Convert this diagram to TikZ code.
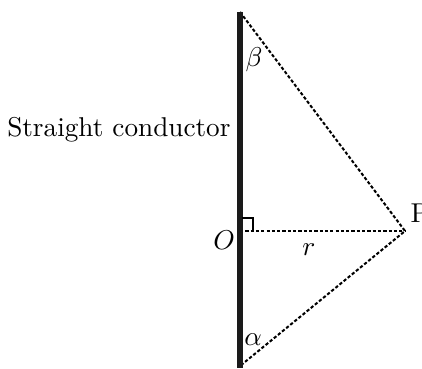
\documentclass[tikz,border=0pt]{standalone}
\usepackage{xcolor}
\usepackage{tikz}
\usepackage{amsmath}
\definecolor{wireblack}{HTML}{1a1a1a}

\begin{document}
\begin{tikzpicture}[x=0.3675pt,y=-0.3675pt,
    guide/.style={line width=0.75pt,dash pattern=on 1.2pt off 0.75pt},
    lbl/.style={inner sep=0pt}]
  \useasboundingbox (0,0) rectangle (422,368);
  \coordinate (top) at (240,12);
  \coordinate (O) at (240,231);
  \coordinate (bot) at (240,366);
  \coordinate (P) at (405,231);
  \coordinate (wireend) at (240,368);
  \draw[guide] (top) -- (P) -- (bot);
  \draw[guide] (O) -- (P);
  \draw[wireblack,line width=2pt] (top) -- (wireend);
  \draw[line width=0.9pt] (242,218) -| (253,231);
  \node[lbl,anchor=base east] (wirename) at (231,137) {Straight conductor};
  \node[lbl] (betalabel) at (254,60) {$\beta$};
  \node[lbl] (alphalabel) at (253,340) {$\alpha$};
  \node[lbl] (Olabel) at (224,240) {$O$};
  \node[lbl] (rlabel) at (309,250) {$r$};
  \node[lbl,anchor=base west] (Plabel) at (410,222) {P};
\end{tikzpicture}
\end{document}
